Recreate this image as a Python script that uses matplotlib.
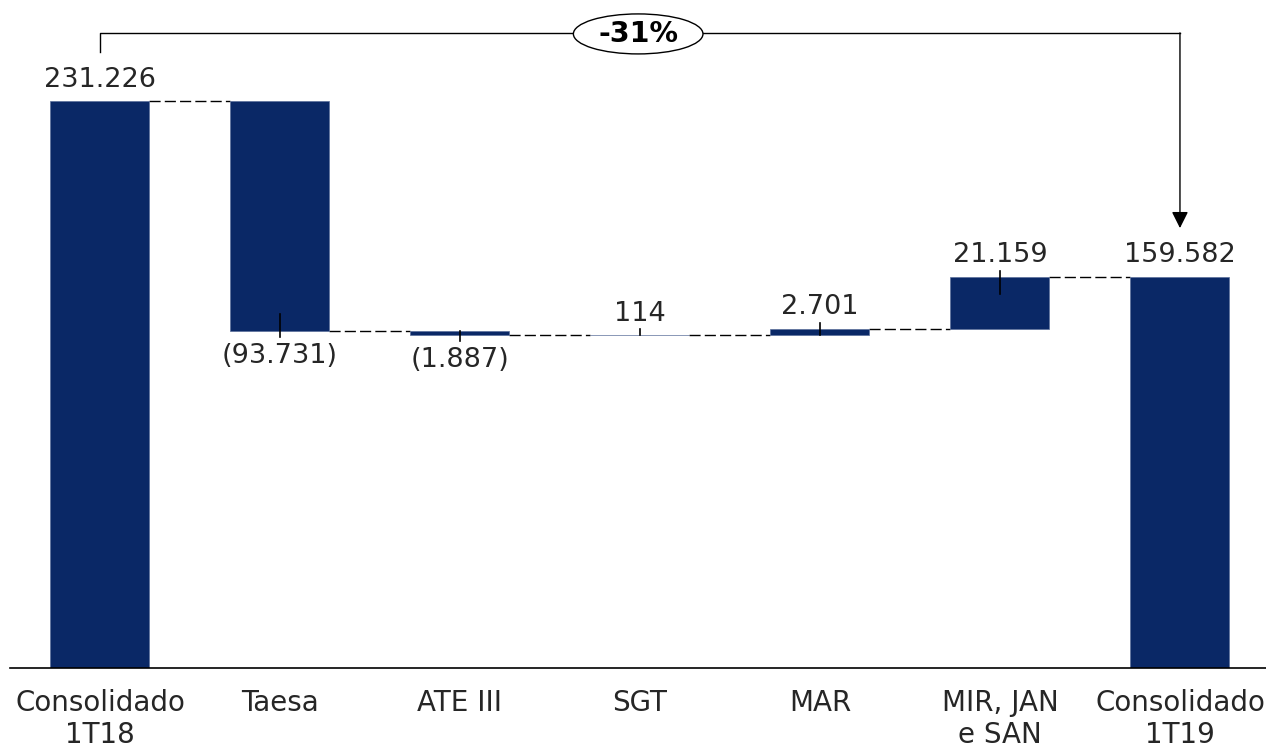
import numpy as np
import matplotlib.pyplot as plt
from matplotlib.patches import Ellipse

# chart data
categories = ['Consolidado\n1T18', 'Taesa', 'ATE III', 'SGT', 'MAR',
              'MIR, JAN\ne SAN', 'Consolidado\n1T19']
values = [231226, -93731, -1887, 114, 2701, 21159, 159582]
value_labels = ['231.226', '(93.731)', '(1.887)', '114', '2.701', '21.159', '159.582']
is_total = [True, False, False, False, False, False, True]
change_label = '-31%'

navy = '#0a2866'
text_color = '#262626'
plt.rcParams['font.family'] = ['DejaVu Sans']

# waterfall geometry
bottoms, heights, levels = [], [], []
running = 0
for v, tot in zip(values, is_total):
    if tot:
        bottoms.append(0)
        heights.append(v)
        running = v
    elif v >= 0:
        bottoms.append(running)
        heights.append(v)
        running += v
    else:
        bottoms.append(running + v)
        heights.append(-v)
        running += v
    levels.append(running)

x = np.arange(len(categories))
w = 0.55

fig = plt.figure(figsize=(12.66, 7.49), dpi=100)
ax = fig.add_axes([10 / 1266, 81 / 749, 1256 / 1266, 668 / 749])
ax.set_xlim(-0.5, 6.478)
ax.set_ylim(0, 272400)
unit_px = 272400 / 668.0  # data units per pixel

ax.bar(x, heights, bottom=bottoms, width=w, color=navy, edgecolor='#5a6f9a',
       linewidth=0.5, zorder=2)

# dashed connectors
for i in range(len(x) - 1):
    ax.plot([x[i] + w / 2, x[i + 1] - w / 2], [levels[i], levels[i]],
            color='black', lw=1.0, dashes=(8, 3), zorder=1)

# value labels + small leader ticks
for i, v in enumerate(values):
    top = bottoms[i] + heights[i]
    inside = min(17 * unit_px, heights[i])
    if v >= 0:
        ax.annotate(value_labels[i], (x[i], top), xytext=(0, 6),
                    textcoords='offset points', ha='center', va='bottom',
                    fontsize=19.5, color=text_color)
        if not is_total[i]:
            ax.plot([x[i], x[i]], [top + 6 * unit_px, top - inside],
                    color='black', lw=1.2, zorder=3)
    else:
        ax.annotate(value_labels[i], (x[i], bottoms[i]), xytext=(0, -8.5),
                    textcoords='offset points', ha='center', va='top',
                    fontsize=19.5, color=text_color)
        ax.plot([x[i], x[i]], [bottoms[i] - 6 * unit_px, bottoms[i] + inside],
                color='black', lw=1.2, zorder=3)

# bracket with change percentage
y_br = values[0] * 1.12
ax.plot([x[0], x[0], x[-1], x[-1]],
        [values[0] * 1.086, y_br, y_br, y_br - 1], color='black', lw=1.0, zorder=1)
ax.annotate('', xy=(x[-1], values[-1] + 19800), xytext=(x[-1], y_br),
            arrowprops=dict(arrowstyle='-|>', mutation_scale=25, lw=1.0,
                            color='black', shrinkA=0, shrinkB=0))
ax.add_patch(Ellipse((3 - 0.01, y_br - 1 * unit_px), width=0.72, height=40 * unit_px,
                     facecolor='white', edgecolor='black', lw=1.0, zorder=3,
                     clip_on=False))
ax.text(3 - 0.01, y_br - 1 * unit_px, change_label, ha='center', va='center',
        fontsize=20.5, fontweight='bold', color='black', zorder=4)

# axes styling
for s in ['top', 'right', 'left']:
    ax.spines[s].set_visible(False)
ax.spines['bottom'].set_linewidth(1.2)
ax.set_yticks([])
ax.set_xticks(x)
ax.set_xticklabels(categories, fontsize=20, color=text_color, linespacing=1.18)
ax.tick_params(axis='x', length=0, pad=15)

fig.savefig('out.png', dpi=100)
